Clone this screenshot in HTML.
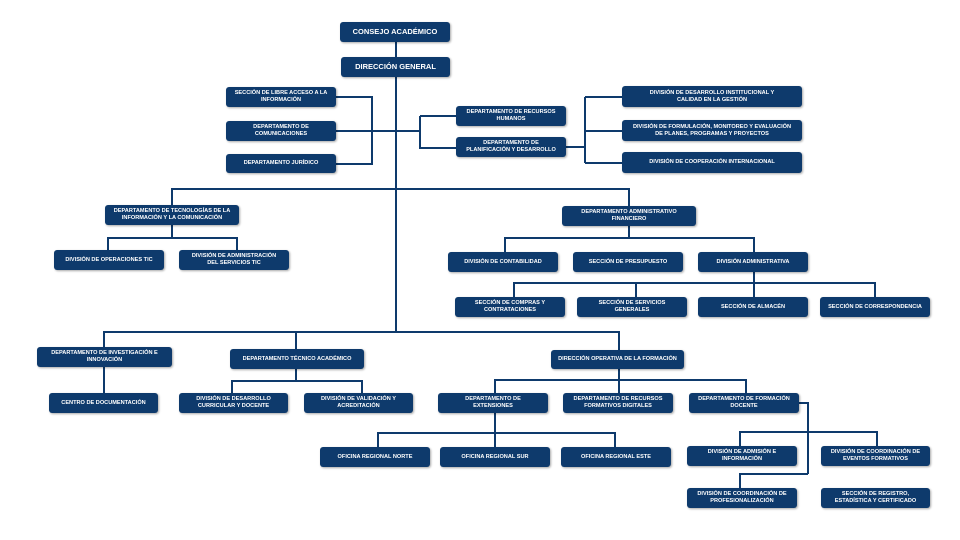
<!DOCTYPE html>
<html><head><meta charset="utf-8"><style>
body{margin:0;width:960px;height:540px;background:#fff;position:relative;overflow:hidden;font-family:"Liberation Sans",sans-serif}
.b{position:absolute;background:#0e3a6c;color:#fff;border-radius:3px;display:flex;align-items:center;justify-content:center;text-align:center;font-weight:bold;font-size:5.6px;line-height:1.25;box-shadow:1px 1px 2px rgba(0,0,0,.35);box-sizing:border-box;padding:0 3px}
svg{position:absolute;left:0;top:0}
</style></head><body>
<svg width="960" height="540" fill="none" stroke="#0e3a6c" stroke-width="2">
<path d="M396 41V57M396 77V332"/>
<path d="M336 97H372V164H336M336 131H420M420 116H456M420 116V148H456"/>
<path d="M566 147H585M585 97V163M585 97H622M585 131H622M585 163H622"/>
<path d="M172 205V189H629V206"/>
<path d="M172 225V238M108 250V238H237V250"/>
<path d="M104 347V332H619V350M296 332V349M104 367V393"/>
<path d="M296 369V381M232 393V381H362V393"/>
<path d="M629 226V238M505 252V238H754V252M754 272V283M514 297V283H875V297M636 283V297M754 283V297"/>
<path d="M619 369V380M495 393V380H746V393M619 380V393"/>
<path d="M495 413V433M378 447V433H615V447M495 433V447"/>
<path d="M799 403H808V474M740 446V432H877V446M740 488V474H808"/>
</svg>
<div class="b" style="left:340px;top:22px;width:110px;height:20px;font-size:7.5px">CONSEJO ACADÉMICO</div>
<div class="b" style="left:341px;top:57px;width:109px;height:20px;font-size:7.5px">DIRECCIÓN GENERAL</div>
<div class="b" style="left:226px;top:87px;width:110px;height:20px">SECCIÓN DE LIBRE ACCESO A LA<br>INFORMACIÓN</div>
<div class="b" style="left:226px;top:121px;width:110px;height:20px">DEPARTAMENTO DE<br>COMUNICACIONES</div>
<div class="b" style="left:226px;top:154px;width:110px;height:19px">DEPARTAMENTO JURÍDICO</div>
<div class="b" style="left:456px;top:106px;width:110px;height:20px">DEPARTAMENTO DE RECURSOS<br>HUMANOS</div>
<div class="b" style="left:456px;top:137px;width:110px;height:20px">DEPARTAMENTO DE<br>PLANIFICACIÓN Y DESARROLLO</div>
<div class="b" style="left:622px;top:86px;width:180px;height:21px">DIVISIÓN DE DESARROLLO INSTITUCIONAL Y<br>CALIDAD EN LA GESTIÓN</div>
<div class="b" style="left:622px;top:120px;width:180px;height:21px">DIVISIÓN DE FORMULACIÓN, MONITOREO Y EVALUACIÓN<br>DE PLANES, PROGRAMAS Y PROYECTOS</div>
<div class="b" style="left:622px;top:152px;width:180px;height:21px">DIVISIÓN DE COOPERACIÓN INTERNACIONAL</div>
<div class="b" style="left:105px;top:205px;width:134px;height:20px">DEPARTAMENTO DE TECNOLOGÍAS DE LA<br>INFORMACIÓN Y LA COMUNICACIÓN</div>
<div class="b" style="left:54px;top:250px;width:110px;height:20px">DIVISIÓN DE OPERACIONES TIC</div>
<div class="b" style="left:179px;top:250px;width:110px;height:20px">DIVISIÓN DE ADMINISTRACIÓN<br>DEL SERVICIOS TIC</div>
<div class="b" style="left:562px;top:206px;width:134px;height:20px">DEPARTAMENTO ADMINISTRATIVO<br>FINANCIERO</div>
<div class="b" style="left:448px;top:252px;width:110px;height:20px">DIVISIÓN DE CONTABILIDAD</div>
<div class="b" style="left:573px;top:252px;width:110px;height:20px">SECCIÓN DE PRESUPUESTO</div>
<div class="b" style="left:698px;top:252px;width:110px;height:20px">DIVISIÓN ADMINISTRATIVA</div>
<div class="b" style="left:455px;top:297px;width:110px;height:20px">SECCIÓN DE COMPRAS Y<br>CONTRATACIONES</div>
<div class="b" style="left:577px;top:297px;width:110px;height:20px">SECCIÓN DE SERVICIOS<br>GENERALES</div>
<div class="b" style="left:698px;top:297px;width:110px;height:20px">SECCIÓN DE ALMACÉN</div>
<div class="b" style="left:820px;top:297px;width:110px;height:20px">SECCIÓN DE CORRESPONDENCIA</div>
<div class="b" style="left:37px;top:347px;width:135px;height:20px">DEPARTAMENTO DE INVESTIGACIÓN E<br>INNOVACIÓN</div>
<div class="b" style="left:230px;top:349px;width:134px;height:20px">DEPARTAMENTO TÉCNICO ACADÉMICO</div>
<div class="b" style="left:551px;top:350px;width:133px;height:19px">DIRECCIÓN OPERATIVA DE LA FORMACIÓN</div>
<div class="b" style="left:49px;top:393px;width:109px;height:20px">CENTRO DE DOCUMENTACIÓN</div>
<div class="b" style="left:179px;top:393px;width:109px;height:20px">DIVISIÓN DE DESARROLLO<br>CURRICULAR Y DOCENTE</div>
<div class="b" style="left:304px;top:393px;width:109px;height:20px">DIVISIÓN DE VALIDACIÓN Y<br>ACREDITACIÓN</div>
<div class="b" style="left:438px;top:393px;width:110px;height:20px">DEPARTAMENTO DE<br>EXTENSIONES</div>
<div class="b" style="left:563px;top:393px;width:110px;height:20px">DEPARTAMENTO DE RECURSOS<br>FORMATIVOS DIGITALES</div>
<div class="b" style="left:689px;top:393px;width:110px;height:20px">DEPARTAMENTO DE FORMACIÓN<br>DOCENTE</div>
<div class="b" style="left:320px;top:447px;width:110px;height:20px">OFICINA REGIONAL NORTE</div>
<div class="b" style="left:440px;top:447px;width:110px;height:20px">OFICINA REGIONAL SUR</div>
<div class="b" style="left:561px;top:447px;width:110px;height:20px">OFICINA REGIONAL ESTE</div>
<div class="b" style="left:687px;top:446px;width:110px;height:20px">DIVISIÓN DE ADMISIÓN E<br>INFORMACIÓN</div>
<div class="b" style="left:821px;top:446px;width:109px;height:20px">DIVISIÓN DE COORDINACIÓN DE<br>EVENTOS FORMATIVOS</div>
<div class="b" style="left:687px;top:488px;width:110px;height:20px">DIVISIÓN DE COORDINACIÓN DE<br>PROFESIONALIZACIÓN</div>
<div class="b" style="left:821px;top:488px;width:109px;height:20px">SECCIÓN DE REGISTRO,<br>ESTADÍSTICA Y CERTIFICADO</div>
</body></html>
